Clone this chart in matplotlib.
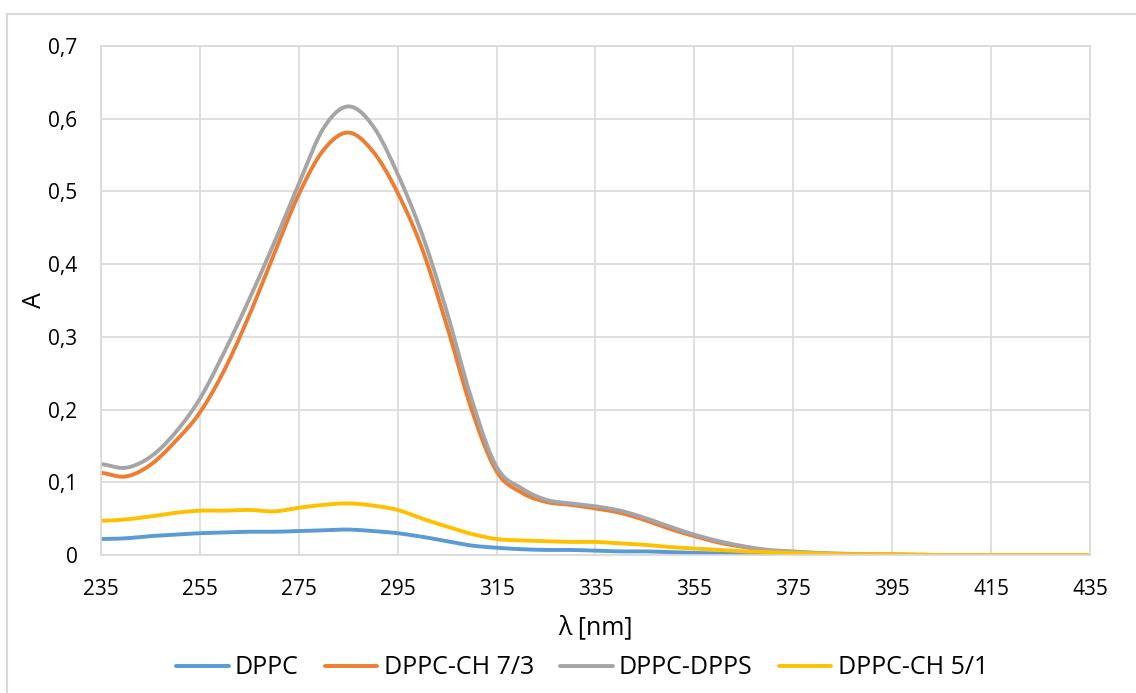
import numpy as np
import matplotlib
matplotlib.use("Agg")
import matplotlib.pyplot as plt
from matplotlib.lines import Line2D
from matplotlib.ticker import FuncFormatter

plt.rcParams['font.family'] = ['Open Sans', 'DejaVu Sans']

# wavelength grid (nm)
wavelength = np.arange(235, 440, 5)

dppc = [0.022, 0.023, 0.026, 0.028, 0.030, 0.031, 0.032, 0.032, 0.033, 0.034,
        0.035, 0.033, 0.030, 0.025, 0.019, 0.013, 0.010, 0.008, 0.007, 0.007,
        0.006, 0.005, 0.005, 0.004, 0.003, 0.002, 0.001, 0.001, 0.001, 0.0005,
        0.0, 0.0, 0.0, 0.0, 0.0, 0.0, 0.0, 0.0, 0.0, 0.0, 0.0]

dppc_ch_73 = [0.113, 0.108, 0.124, 0.156, 0.196, 0.255, 0.330, 0.414, 0.496, 0.557,
              0.581, 0.555, 0.498, 0.420, 0.314, 0.199, 0.115, 0.086, 0.073, 0.069,
              0.064, 0.058, 0.048, 0.036, 0.026, 0.017, 0.011, 0.006, 0.004, 0.002,
              0.001, 0.001, 0.0005, 0.0, 0.0, 0.0, 0.0, 0.0, 0.0, 0.0, 0.0]

dppc_dpps = [0.125, 0.120, 0.135, 0.168, 0.215, 0.280, 0.352, 0.429, 0.510, 0.587,
             0.617, 0.590, 0.524, 0.440, 0.333, 0.213, 0.121, 0.092, 0.076, 0.071,
             0.067, 0.061, 0.051, 0.039, 0.028, 0.019, 0.012, 0.007, 0.005, 0.003,
             0.002, 0.001, 0.001, 0.0005, 0.0, 0.0, 0.0, 0.0, 0.0, 0.0, 0.0]

dppc_ch_51 = [0.047, 0.049, 0.053, 0.058, 0.061, 0.061, 0.062, 0.060, 0.065, 0.069,
              0.071, 0.068, 0.062, 0.050, 0.039, 0.029, 0.022, 0.020, 0.019, 0.018,
              0.018, 0.016, 0.014, 0.011, 0.009, 0.007, 0.005, 0.004, 0.003, 0.002,
              0.001, 0.001, 0.001, 0.0005, 0.0, 0.0, 0.0, 0.0, 0.0, 0.0, 0.0]

labels = ["DPPC", "DPPC-CH 7/3", "DPPC-DPPS", "DPPC-CH 5/1"]
colors = ["#5B9BD5", "#ED7D31", "#A5A5A5", "#FFC000"]


def smooth(x, y, n=8):
    # Catmull-Rom style smoothing, like Excel's "smoothed line"
    x = np.asarray(x, float)
    y = np.asarray(y, float)
    xs, ys = [], []
    for i in range(len(x) - 1):
        p0 = y[i - 1] if i > 0 else y[i]
        p3 = y[i + 2] if i + 2 < len(y) else y[i + 1]
        p1, p2 = y[i], y[i + 1]
        t = np.linspace(0, 1, n, endpoint=False)
        seg = 0.5 * ((2 * p1) + (-p0 + p2) * t + (2 * p0 - 5 * p1 + 4 * p2 - p3) * t ** 2
                     + (-p0 + 3 * p1 - 3 * p2 + p3) * t ** 3)
        xs.append(x[i] + (x[i + 1] - x[i]) * t)
        ys.append(seg)
    xs.append([x[-1]])
    ys.append([y[-1]])
    return np.concatenate(xs), np.concatenate(ys)


fig = plt.figure(figsize=(11.36, 6.93), dpi=100)
ax = fig.add_axes([0.0889, 0.1991, 0.8706, 0.7345])

for series, lab, col in zip([dppc, dppc_ch_73, dppc_dpps, dppc_ch_51], labels, colors):
    sx, sy = smooth(wavelength, series)
    ax.plot(sx, sy, color=col, lw=2.8, label=lab, solid_capstyle='round', solid_joinstyle='round')

ax.set_xlim(235, 435)
ax.set_ylim(0, 0.7)
ax.set_xticks(np.arange(235, 436, 20))
ax.set_yticks(np.arange(0, 0.71, 0.1))
ax.yaxis.set_major_formatter(FuncFormatter(lambda v, p: "0" if abs(v) < 1e-9 else f"{v:.1f}".replace(".", ",")))

ax.grid(True, color="#D9D9D9", lw=1.2)
ax.set_axisbelow(True)
for s in ax.spines.values():
    s.set_color("#D9D9D9")
    s.set_linewidth(1.2)
ax.tick_params(length=0, labelsize=15, colors="black")
ax.tick_params(axis='y', pad=17)
ax.tick_params(axis='x', pad=17)

ax.set_xlabel("λ [nm]", fontsize=18, va='center')
ax.set_ylabel("A", fontsize=18, va='center')
ax.xaxis.set_label_coords(0.5, -0.143)
ax.yaxis.set_label_coords(-0.067, 0.5)

fig.legend(loc='center', bbox_to_anchor=(582 / 1136, 1 - 668 / 693), ncol=4, frameon=False,
           fontsize=18, handlelength=2.1, handletextpad=0.25, columnspacing=1.05)

# outer chart border (top and left edges visible)
fig.add_artist(Line2D([7 / 1136, 1.0], [1 - 14 / 693, 1 - 14 / 693], color="#D9D9D9", lw=1.5))
fig.add_artist(Line2D([7 / 1136, 7 / 1136], [0, 1 - 14 / 693], color="#D9D9D9", lw=1.5))

fig.savefig("out.png", dpi=100)
